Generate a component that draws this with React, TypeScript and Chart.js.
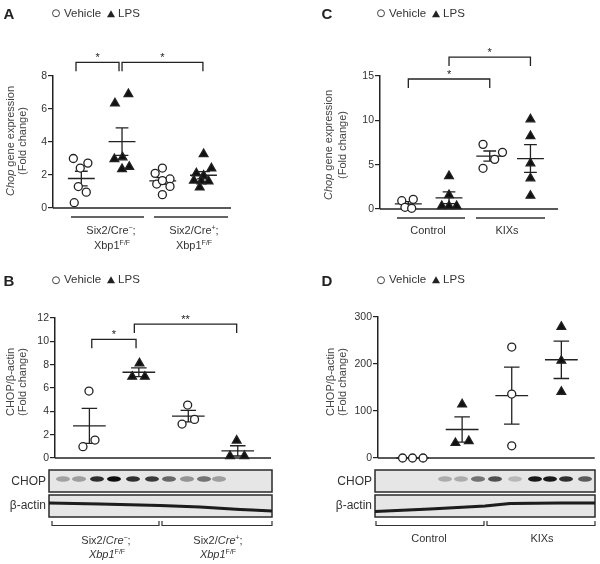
import React, { useEffect, useRef } from "react";
import { Chart, registerables } from "chart.js";

Chart.register(...registerables);

// ---------- shared ----------
const GROUP_POS = [16, 39, 62, 85]; // x positions of the four groups (0..100 scale)
const MEAN_HALF = 7.6;
const CAP_HALF = 3.6;
const FONT = "'Liberation Sans', Arial, Helvetica, sans-serif";

// ---------- Panel A : Chop gene expression ----------
const aYRange = [0, 8, 2];
const aVehicleCreNeg = [3.0, 2.72, 2.42, 1.3, 0.96, 0.32];
const aVehicleCreNegJitter = [-4.5, 3.7, -0.6, -1.7, 2.8, -4];
const aLpsCreNeg = [6.91, 6.34, 2.97, 3.07, 2.36, 2.5];
const aLpsCreNegJitter = [3.6, -4, -4.3, 0.3, 0, 4.1];
const aVehicleCrePos = [2.42, 2.1, 1.76, 1.45, 1.66, 1.31, 0.81];
const aVehicleCrePosJitter = [-0.2, -4.3, 4.1, -3.4, -0.2, 4.1, -0.2];
const aLpsCrePos = [3.27, 2.4, 2.1, 1.96, 1.62, 1.66, 1.62, 1.25];
const aLpsCrePosJitter = [0.1, 4.5, -4, 0.1, 2.9, -5.4, -1.2, -2.1];
const aBrackets = [
  { from: 0, to: 1, y: 8.83, label: "*", nudge: [-3, -1.7] },
  { from: 1, to: 3, y: 8.83, label: "*", nudge: [0, -0.3] },
];

// ---------- Panel B : CHOP/β-actin ----------
const bYRange = [0, 12, 2];
const bVehicleCreNeg = [5.74, 1.54, 0.97];
const bVehicleCreNegJitter = [-0.2, 2.6, -3];
const bLpsCreNeg = [8.11, 6.97, 6.97];
const bLpsCreNegJitter = [0.3, -3.1, 2.8];
const bVehicleCrePos = [4.54, 2.91, 3.31];
const bVehicleCrePosJitter = [-0.3, -2.9, 2.9];
const bLpsCrePos = [1.49, 0.17, 0.17];
const bLpsCrePosJitter = [-0.5, -3.6, 3.1];
const bBrackets = [
  { from: 0, to: 1, y: 10.17, label: "*", nudge: [1.1, -1.3] },
  { from: 1, to: 3, y: 11.48, label: "**", nudge: [-2.1, -0.5] },
];

// ---------- Panel C : Chop gene expression, Control vs KIXs ----------
const cYRange = [0, 15, 5];
const cVehicleControl = [0.94, 1.09, 0.19, 0.08];
const cVehicleControlJitter = [-3.7, 2.8, -1.9, 1.9];
const cLpsControl = [3.72, 1.58, 0.34, 0.34, 0.34];
const cLpsControlJitter = [0, 0, -4.1, 0, 4.3];
const cVehicleKixs = [7.29, 6.39, 5.6, 4.59];
const cVehicleKixsJitter = [-3.8, 7.2, 2.8, -3.8];
const cLpsKixs = [10.11, 8.23, 5.15, 3.46, 1.5];
const cLpsKixsJitter = [0, 0, 0, 0, 0];
const cBrackets = [
  { from: 0, to: 2, y: 14.66, label: "*", nudge: [0, 0] },
  { from: 1, to: 3, y: 17.14, label: "*", nudge: [0, 0] },
];

// ---------- Panel D : CHOP/β-actin, Control vs KIXs ----------
const dYRange = [0, 300, 100];
const dVehicleControl = [0, 0, 0];
const dVehicleControlJitter = [-4.6, 0, 4.9];
const dLpsControl = [114, 32, 36];
const dLpsControlJitter = [0, -3.1, 3.1];
const dVehicleKixs = [236, 136, 26];
const dVehicleKixsJitter = [0, 0, 0];
const dLpsKixs = [279, 207, 141];
const dLpsKixsJitter = [0, 0, 0];
const dBrackets: any[] = [];

// ---------- western blot look (decoration) ----------
const bBandX = [63, 79, 97, 114, 133, 152, 169, 187, 204, 219];
const bBandI = [0.3, 0.35, 0.85, 1.0, 0.85, 0.8, 0.6, 0.4, 0.55, 0.35];
const dBandX = [445, 461, 478, 495, 515, 535, 550, 566, 585];
const dBandI = [0.25, 0.25, 0.55, 0.7, 0.2, 0.95, 0.95, 0.85, 0.65];
const bActin = [[49, 503], [100, 504], [160, 505.5], [200, 507], [240, 509.5], [272, 511]];
const dActin = [[375, 511.5], [430, 509], [485, 506], [510, 503.5], [560, 503], [595, 503]];

const mk = (values: number[], jitter: number[], kind: string) => ({ values, jitter, kind });

const panels = [
  {
    id: "A",
    groups: [
      mk(aVehicleCreNeg, aVehicleCreNegJitter, "circle"),
      mk(aLpsCreNeg, aLpsCreNegJitter, "triangle"),
      mk(aVehicleCrePos, aVehicleCrePosJitter, "circle"),
      mk(aLpsCrePos, aLpsCrePosJitter, "triangle"),
    ],
    brackets: aBrackets,
    range: aYRange,
    pad: { left: 0, right: 370, top: 76, bottom: 356 },
    yWidth: 53,
  },
  {
    id: "B",
    groups: [
      mk(bVehicleCreNeg, bVehicleCreNegJitter, "circle"),
      mk(bLpsCreNeg, bLpsCreNegJitter, "triangle"),
      mk(bVehicleCrePos, bVehicleCrePosJitter, "circle"),
      mk(bLpsCrePos, bLpsCrePosJitter, "triangle"),
    ],
    brackets: bBrackets,
    range: bYRange,
    pad: { left: 0, right: 330, top: 318, bottom: 106 },
    yWidth: 55,
  },
  {
    id: "C",
    groups: [
      mk(cVehicleControl, cVehicleControlJitter, "circle"),
      mk(cLpsControl, cLpsControlJitter, "triangle"),
      mk(cVehicleKixs, cVehicleKixsJitter, "circle"),
      mk(cLpsKixs, cLpsKixsJitter, "triangle"),
    ],
    brackets: cBrackets,
    range: cYRange,
    pad: { left: 300, right: 43, top: 76, bottom: 355 },
    yWidth: 80,
  },
  {
    id: "D",
    groups: [
      mk(dVehicleControl, dVehicleControlJitter, "circle"),
      mk(dLpsControl, dLpsControlJitter, "triangle"),
      mk(dVehicleKixs, dVehicleKixsJitter, "circle"),
      mk(dLpsKixs, dLpsKixsJitter, "triangle"),
    ],
    brackets: dBrackets,
    range: dYRange,
    pad: { left: 300, right: 4, top: 317, bottom: 106 },
    yWidth: 78,
  },
];

function meanSem(vals: number[]) {
  const n = vals.length;
  const mean = vals.reduce((s, v) => s + v, 0) / n;
  const sd = n > 1 ? Math.sqrt(vals.reduce((s, v) => s + (v - mean) ** 2, 0) / (n - 1)) : 0;
  return { mean, sem: sd / Math.sqrt(n) };
}

function statsPlugin(p: any) {
  return {
    id: "stats" + p.id,
    beforeDatasetsDraw(chart: any) {
      const { ctx, chartArea } = chart;
      const x = chart.scales.x;
      const y = chart.scales.y;
      ctx.save();
      ctx.strokeStyle = "#222";
      ctx.lineWidth = 1.5;
      const y0 = y.getPixelForValue(0);
      ctx.beginPath();
      ctx.moveTo(chartArea.left, y0);
      ctx.lineTo(chartArea.right + 1, y0);
      ctx.stroke();
      ctx.lineWidth = 1.3;
      p.groups.forEach((g: any, gi: number) => {
        const { mean, sem } = meanSem(g.values);
        const c = GROUP_POS[gi];
        const cx = x.getPixelForValue(c);
        const ml = x.getPixelForValue(c - MEAN_HALF);
        const mr = x.getPixelForValue(c + MEAN_HALF);
        const cl = x.getPixelForValue(c - CAP_HALF);
        const cr = x.getPixelForValue(c + CAP_HALF);
        const ym = y.getPixelForValue(mean);
        const yt = y.getPixelForValue(mean + sem);
        const yb = y.getPixelForValue(mean - sem);
        ctx.beginPath();
        ctx.moveTo(ml, ym);
        ctx.lineTo(mr, ym);
        if (sem > 0) {
          ctx.moveTo(cx, yt);
          ctx.lineTo(cx, yb);
          ctx.moveTo(cl, yt);
          ctx.lineTo(cr, yt);
          ctx.moveTo(cl, yb);
          ctx.lineTo(cr, yb);
        }
        ctx.stroke();
      });
      ctx.restore();
    },
    afterDatasetsDraw(chart: any) {
      const { ctx } = chart;
      const x = chart.scales.x;
      const y = chart.scales.y;
      ctx.save();
      ctx.strokeStyle = "#222";
      ctx.lineWidth = 1.3;
      ctx.fillStyle = "#222";
      ctx.font = `11px ${FONT}`;
      ctx.textAlign = "center";
      ctx.textBaseline = "alphabetic";
      p.brackets.forEach((b: any) => {
        const x1 = x.getPixelForValue(GROUP_POS[b.from] + (b.nudge ? b.nudge[0] : 0));
        const x2 = x.getPixelForValue(GROUP_POS[b.to] + (b.nudge ? b.nudge[1] : 0));
        const yt = y.getPixelForValue(b.y);
        ctx.beginPath();
        ctx.moveTo(x1, yt + 9);
        ctx.lineTo(x1, yt);
        ctx.lineTo(x2, yt);
        ctx.lineTo(x2, yt + 9);
        ctx.stroke();
        ctx.fillText(b.label, (x1 + x2) / 2, yt - 1.5);
      });
      ctx.restore();
    },
  };
}

function buildConfig(p: any): any {
  return {
    type: "scatter",
    data: {
      datasets: p.groups.map((g: any, gi: number) => ({
        data: g.values.map((v: number, i: number) => ({ x: GROUP_POS[gi] + g.jitter[i], y: v })),
        pointStyle: g.kind,
        pointRadius: g.kind === "circle" ? 4 : 5,
        pointHoverRadius: g.kind === "circle" ? 4 : 5,
        pointBackgroundColor: g.kind === "circle" ? "#ffffff" : "#111111",
        pointBorderColor: "#222",
        pointBorderWidth: 1.3,
        clip: false,
      })),
    },
    options: {
      animation: false,
      responsive: false,
      devicePixelRatio: 1,
      events: [],
      layout: { padding: p.pad },
      plugins: { legend: { display: false }, tooltip: { enabled: false }, title: { display: false } },
      scales: {
        x: { type: "linear", min: 0, max: 100, display: false },
        y: {
          type: "linear",
          min: p.range[0],
          max: p.range[1],
          afterFit: (s: any) => {
            s.width = p.yWidth;
          },
          ticks: { stepSize: p.range[2], color: "#333", font: { family: FONT, size: 10.5 }, padding: 1 },
          grid: { display: true, drawOnChartArea: false, drawTicks: true, tickLength: 5, color: "#222", lineWidth: 1.2 },
          border: { display: true, color: "#222", width: 1.5 },
        },
      },
    },
    plugins: [statsPlugin(p)],
  };
}

function PanelChart({ panel }: any) {
  const ref = useRef<HTMLCanvasElement>(null);
  useEffect(() => {
    const chart = new Chart(ref.current as HTMLCanvasElement, buildConfig(panel));
    return () => chart.destroy();
  }, []);
  return (
    <canvas
      ref={ref}
      width={600}
      height={564}
      style={{ position: "absolute", left: 0, top: 0, width: 600, height: 564, display: "block" }}
    />
  );
}

function T({ x, y, children, size = 11, align = "center", rotate = false, bold = false, color = "#333" }: any) {
  const tx = align === "center" ? "-50%" : align === "right" ? "-100%" : "0";
  return (
    <div
      style={{
        position: "absolute",
        left: x,
        top: y,
        transform: `translate(${tx}, -50%)${rotate ? " rotate(-90deg)" : ""}`,
        transformOrigin: rotate ? "50% 50%" : undefined,
        fontSize: size,
        fontWeight: bold ? 700 : 400,
        color,
        whiteSpace: "nowrap",
        lineHeight: 1,
      }}
    >
      {children}
    </div>
  );
}

function Legend({ x, y }: any) {
  return (
    <div
      style={{
        position: "absolute",
        left: x,
        top: y,
        transform: "translateY(-50%)",
        display: "flex",
        alignItems: "center",
        fontSize: 11.5,
        color: "#333",
        whiteSpace: "nowrap",
        lineHeight: 1,
      }}
    >
      <span style={{ width: 6, height: 6, border: "1px solid #444", borderRadius: "50%", display: "inline-block", marginRight: 4 }} />
      <span>Vehicle</span>
      <span
        style={{
          width: 0,
          height: 0,
          borderLeft: "4px solid transparent",
          borderRight: "4px solid transparent",
          borderBottom: "7px solid #222",
          display: "inline-block",
          margin: "0 3px 0 6px",
        }}
      />
      <span>LPS</span>
    </div>
  );
}

const sup = (s: string) => <sup style={{ fontSize: 7, verticalAlign: "4px", lineHeight: 0 }}>{s}</sup>;

function Blot({ left, width, bandX, bandI, actin }: any) {
  return (
    <g>
      <rect x={left} y={470} width={width} height={22} fill="#e6e6e6" stroke="#2a2a2a" strokeWidth={1.5} />
      <g filter="url(#blotBlur)">
        {bandX.map((bx: number, i: number) => (
          <ellipse key={i} cx={bx} cy={479} rx={7} ry={2.8} fill="#111" opacity={bandI[i]} />
        ))}
      </g>
      <rect x={left} y={495} width={width} height={22} fill="#e6e6e6" stroke="#2a2a2a" strokeWidth={1.5} />
      <polyline
        points={actin.map((p: number[]) => p.join(",")).join(" ")}
        fill="none"
        stroke="#1a1a1a"
        strokeWidth={3}
        filter="url(#actinBlur)"
      />
    </g>
  );
}

function Overlay() {
  const line = { stroke: "#333", strokeWidth: 1.5, fill: "none" };
  return (
    <svg width={600} height={564} style={{ position: "absolute", left: 0, top: 0, pointerEvents: "none" }}>
      <defs>
        <filter id="blotBlur" x="-50%" y="-200%" width="200%" height="500%">
          <feGaussianBlur stdDeviation="0.7" />
        </filter>
        <filter id="actinBlur" x="-10%" y="-200%" width="120%" height="500%">
          <feGaussianBlur stdDeviation="0.5" />
        </filter>
      </defs>
      {/* A group underlines */}
      <path d="M71 217 H144 M154 217 H228" {...line} />
      {/* C group underlines */}
      <path d="M397 218 H465 M476 218 H545" {...line} />
      {/* blots */}
      <Blot left={49} width={223} bandX={bBandX} bandI={bBandI} actin={bActin} />
      <Blot left={375} width={220} bandX={dBandX} bandI={dBandI} actin={dActin} />
      {/* bottom brackets */}
      <path d="M52 521 V525.5 H159 V521 M162 521 V525.5 H272 V521" stroke="#333" strokeWidth={1.2} fill="none" />
      <path d="M376 521 V525.5 H484 V521 M487 521 V525.5 H595 V521" stroke="#333" strokeWidth={1.2} fill="none" />
    </svg>
  );
}

export default function App() {
  return (
    <div
      style={{
        position: "absolute",
        left: 0,
        top: 0,
        width: 600,
        height: 564,
        background: "#ffffff",
        fontFamily: FONT,
        overflow: "hidden",
      }}
    >
      <Overlay />
      {panels.map((p) => (
        <PanelChart key={p.id} panel={p} />
      ))}

      {/* panel letters */}
      <T x={9} y={13} size={15} bold color="#222">A</T>
      <T x={327} y={13} size={15} bold color="#222">C</T>
      <T x={9} y={280} size={15} bold color="#222">B</T>
      <T x={327} y={280} size={15} bold color="#222">D</T>

      {/* legends */}
      <Legend x={52} y={13.5} />
      <Legend x={377} y={13.5} />
      <Legend x={52} y={280} />
      <Legend x={377} y={280} />

      {/* y-axis titles */}
      <T x={10} y={141} rotate color="#444"><i>Chop</i> gene expression</T>
      <T x={22} y={141} rotate color="#444">(Fold change)</T>
      <T x={328} y={145} rotate color="#444"><i>Chop</i> gene expression</T>
      <T x={342} y={145} rotate color="#444">(Fold change)</T>
      <T x={10} y={382} rotate color="#444">CHOP/β-actin</T>
      <T x={22} y={382} rotate color="#444">(Fold change)</T>
      <T x={330} y={382} rotate color="#444">CHOP/β-actin</T>
      <T x={342} y={382} rotate color="#444">(Fold change)</T>

      {/* A group labels */}
      <T x={111} y={230}>Six2/Cre{sup("−")};</T>
      <T x={112} y={245}>Xbp1{sup("F/F")}</T>
      <T x={194} y={230}>Six2/Cre{sup("+")};</T>
      <T x={194} y={245}>Xbp1{sup("F/F")}</T>

      {/* C group labels */}
      <T x={428} y={230}>Control</T>
      <T x={507} y={230}>KIXs</T>

      {/* blot labels */}
      <T x={46} y={481} size={12} align="right">CHOP</T>
      <T x={46} y={505} size={12} align="right">β-actin</T>
      <T x={372} y={481} size={12} align="right">CHOP</T>
      <T x={372} y={505} size={12} align="right">β-actin</T>

      {/* B group labels */}
      <T x={106} y={540}>Six2/<i>Cre</i>{sup("−")};</T>
      <T x={107} y={554}><i>Xbp1</i>{sup("F/F")}</T>
      <T x={218} y={540}>Six2/<i>Cre</i>{sup("+")};</T>
      <T x={218} y={554}><i>Xbp1</i>{sup("F/F")}</T>

      {/* D group labels */}
      <T x={429} y={538}>Control</T>
      <T x={542} y={538}>KIXs</T>
    </div>
  );
}
